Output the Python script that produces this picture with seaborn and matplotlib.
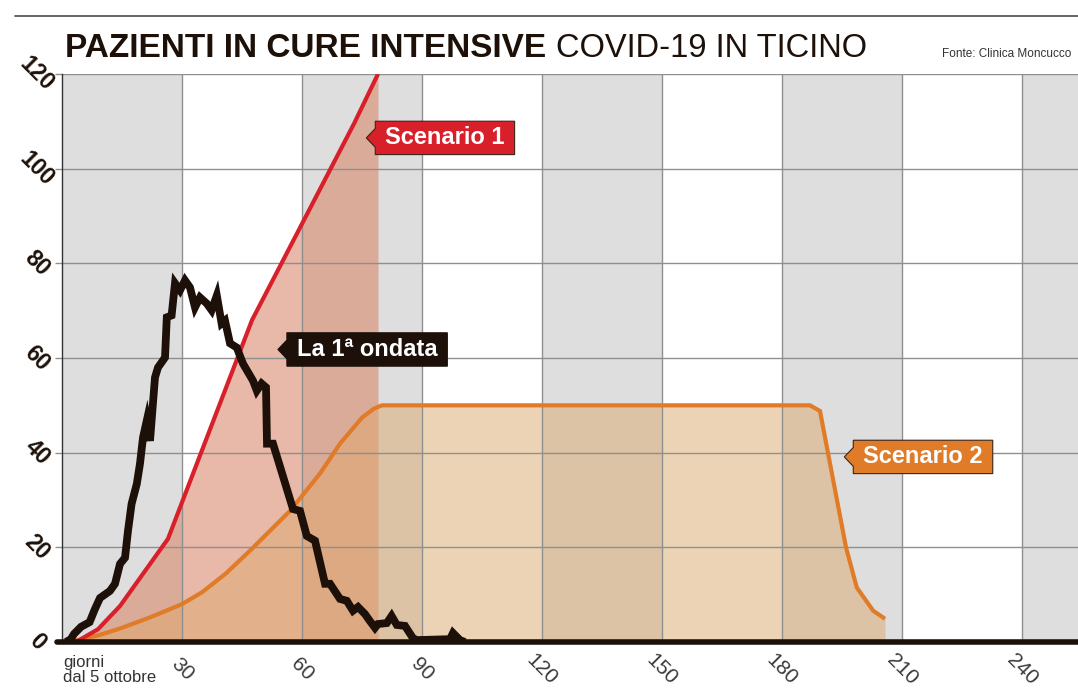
import matplotlib
matplotlib.use("Agg")
import pandas as pd
import matplotlib.pyplot as plt
from matplotlib.path import Path
from matplotlib.lines import Line2D
import seaborn as sns

# 1a ondata: pazienti in cure intensive (giorni dal 5 ottobre)
wave1_days = [1, 2.2, 3, 4.75, 6.9, 8.25, 9.5, 12, 13.25, 14.5, 15.75, 16.5, 17.4,
              18.7, 19.5, 20.25, 21.2, 22, 23.25, 24, 25.75, 26.2, 27.4, 28.25, 29.5,
              30.75, 32, 33.25, 34.5, 36.2, 37.4, 38.7, 39.9, 40.75, 42, 43.7, 45.25,
              47.75, 48.7, 49.9, 51, 51.25, 52.75, 57.75, 59.5, 61.2, 63.25, 65.75, 67,
              69.5, 71.2, 72.75, 74, 75.75, 77, 78.25, 79, 81.2, 82.4, 83.7, 85.75,
              87.75, 88.7, 97, 97.75, 99.5, 100.75]
wave1_vals = [0, 0.6, 1.7, 3.2, 4.2, 7.0, 9.3, 10.8, 12.3, 16.5, 17.8, 23.5, 29.2,
              33.4, 37.7, 43.2, 46.8, 42.5, 55.9, 58, 60.1, 68.6, 69.0, 75.8, 74.3,
              76.4, 74.9, 70.7, 72.8, 71.5, 70.1, 73.2, 67.3, 67.9, 63.1, 62.2, 58.8,
              55.2, 53.1, 54.6, 53.8, 41.9, 41.9, 28.1, 27.7, 22.4, 21.4, 12.3, 12.3,
              9.1, 8.7, 6.6, 7.4, 5.9, 4.4, 3.0, 3.8, 4.0, 5.5, 3.6, 3.4,
              0.8, 0.4, 0.6, 1.9, 0.4, 0]

# scenario 1
scen1_days = [3.5, 9, 14.5, 26.5, 47.5, 73, 79]
scen1_vals = [0, 2.7, 7.6, 21.8, 68, 109.5, 120]

# scenario 2
scen2_days = [2, 9.5, 15, 22, 30, 35, 41, 47, 57, 64.5, 69.5, 75, 78, 80,
              187, 189.5, 196, 198.7, 202.8, 205.75]
scen2_vals = [0, 1.5, 3, 5.2, 8, 10.5, 14.5, 19.3, 27.7, 35.6, 41.9, 47.4, 49.3, 50,
              50, 48.8, 20, 11.5, 6.6, 4.9]

x_ticks = [30, 60, 90, 120, 150, 180, 210, 240]
y_ticks = [0, 20, 40, 60, 80, 100, 120]
band_starts = [0, 60, 120, 180, 240]

wave1 = pd.DataFrame({"giorno": wave1_days, "pazienti": wave1_vals})
scen1 = pd.DataFrame({"giorno": scen1_days, "pazienti": scen1_vals})
scen2 = pd.DataFrame({"giorno": scen2_days, "pazienti": scen2_vals})

sns.set_style("white")
plt.rcParams["font.family"] = ["Liberation Sans", "DejaVu Sans"]

INK = "#1c1008"
RED = "#d7202a"
ORANGE = "#e07b28"


def tag_box(padx=0.42, pady=0.22, tip=0.38):
    # box with a small pointer on the left side
    def box(x0, y0, width, height, mutation_size):
        px, py = padx * mutation_size, pady * mutation_size
        x0, y0 = x0 - px, y0 - py
        x1, y1 = x0 + width + 2 * px, y0 + height + 2 * py
        ym = (y0 + y1) / 2
        t = tip * mutation_size
        verts = [(x0, y0), (x1, y0), (x1, y1), (x0, y1),
                 (x0, ym + t * 1.05), (x0 - t, ym), (x0, ym - t * 1.05), (x0, y0)]
        return Path(verts, closed=True)
    return box


fig = plt.figure(figsize=(10.78, 6.93), dpi=100)
ax = fig.add_axes([62 / 1078, 1 - 642 / 693, 1 - 62 / 1078, (642 - 74) / 693])

for s in band_starts:
    ax.axvspan(s, s + 30, color="#dedede", lw=0, zorder=0)

ax.fill_between(scen1.giorno, scen1.pazienti, color="#d9896e", alpha=0.6, lw=0, zorder=1)
ax.fill_between(scen2.giorno, scen2.pazienti, color="#dda96d", alpha=0.5, lw=0, zorder=1.1)

for x in x_ticks:
    ax.axvline(x, color="#8f8f8f", lw=1, zorder=1.5)
for y in y_ticks[1:]:
    ax.axhline(y, color="#8f8f8f", lw=1, zorder=1.5)

sns.lineplot(data=scen2, x="giorno", y="pazienti", color=ORANGE, lw=3,
             estimator=None, sort=False, ax=ax, zorder=3)
sns.lineplot(data=scen1, x="giorno", y="pazienti", color=RED, lw=3,
             estimator=None, sort=False, ax=ax, zorder=3.2)
sns.lineplot(data=wave1, x="giorno", y="pazienti", color=INK, lw=5.6,
             estimator=None, sort=False, ax=ax, zorder=4)
for line in ax.lines[-3:]:
    line.set_solid_joinstyle("miter")
    line.set_solid_capstyle("butt")

ax.axhline(0, xmin=-0.005, xmax=1, color=INK, lw=4, zorder=5, clip_on=False)

ax.set_xlim(0, 254)
ax.set_ylim(0, 120)
ax.set_xlabel("")
ax.set_ylabel("")

for side in ["top", "right", "bottom"]:
    ax.spines[side].set_visible(False)
ax.spines["left"].set_color("#333333")
ax.spines["left"].set_linewidth(1)

ax.set_xticks(x_ticks)
ax.set_xticklabels([str(v) for v in x_ticks], rotation=-45, ha="center", va="center",
                   rotation_mode="anchor", fontsize=15, color="#3a3a3a")
ax.tick_params(axis="x", length=0, pad=20)
ax.set_yticks(y_ticks)
ax.set_yticklabels([str(v) for v in y_ticks], rotation=-45, ha="center", va="center",
                   rotation_mode="anchor", fontsize=16.5, fontweight="bold", color=INK)
ax.tick_params(axis="y", length=5, width=1, color="#8f8f8f", pad=13, left=True)

# etichette delle serie
ax.text(80.8, 106.5, "Scenario 1", color="white", fontsize=17, fontweight="bold",
        ha="left", va="center", zorder=6,
        bbox=dict(boxstyle=tag_box(), fc=RED, ec="#3a2418", lw=0.8))
ax.text(58.7, 61.8, "La 1ª ondata", color="white", fontsize=17, fontweight="bold",
        ha="left", va="center", zorder=6,
        bbox=dict(boxstyle=tag_box(), fc=INK, ec=INK, lw=0.8))
ax.text(200.3, 39.1, "Scenario 2", color="white", fontsize=17, fontweight="bold",
        ha="left", va="center", zorder=6,
        bbox=dict(boxstyle=tag_box(), fc=ORANGE, ec="#3a2418", lw=0.8))

# titolo e note
fig.add_artist(Line2D([15 / 1078, 1], [1 - 16 / 693] * 2, color="#4a4a4a", lw=1.2))
t1 = fig.text(65 / 1078, 1 - 57 / 693, "PAZIENTI IN CURE INTENSIVE", fontsize=24,
              fontweight="bold", color=INK, va="baseline", ha="left")
bb = t1.get_window_extent(fig.canvas.get_renderer())
fig.text((bb.x1 + 10) / 1078, 1 - 57 / 693, "COVID-19 IN TICINO", fontsize=23.5,
         color=INK, va="baseline", ha="left")
fig.text(1071 / 1078, 1 - 57 / 693, "Fonte: Clinica Moncucco", fontsize=8.5,
         color="#333333", va="baseline", ha="right")
fig.text(63 / 1078, 1 - 655 / 693, "giorni\ndal 5 ottobre", fontsize=12,
         color="#333333", va="top", ha="left", linespacing=1.0)

fig.savefig("out.png", dpi=100)
